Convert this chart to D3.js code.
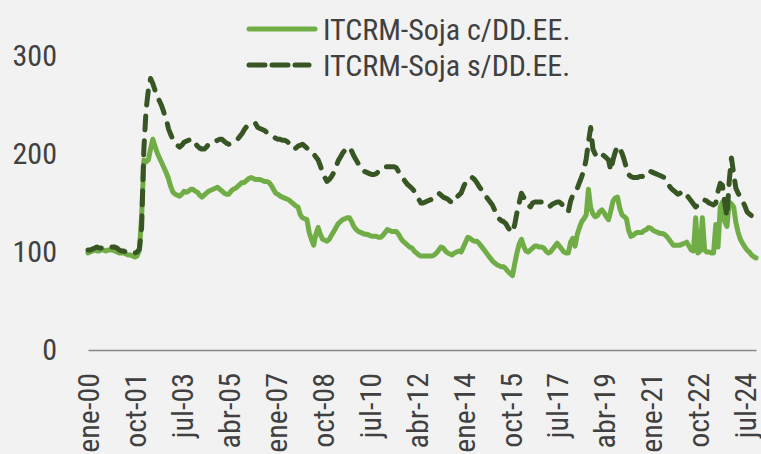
<!DOCTYPE html>
<html>
<head>
<meta charset="utf-8">
<script src="https://cdn.jsdelivr.net/npm/d3@7"></script>
<style>
  body { margin: 0; background: #f2f2f2; }
  text { font-family: "Liberation Sans Narrow", "Roboto Condensed", "Arial Narrow", sans-serif; }
</style>
</head>
<body>
<div id="graph"></div>
<script>
// ITCRM-Soja, monthly, ene-00 .. dic-24 (one line per year)
var conDE = [
  99, 100, 101, 102, 101, 101, 102, 102, 101, 102, 102, 102,
  101, 100, 99, 99, 99, 98, 97, 97, 96, 95, 96, 102,
  136, 194, 192, 194, 205, 215, 208, 201, 196, 191, 186, 181,
  175, 167, 161, 159, 158, 157, 159, 162, 161, 162, 164, 164,
  162, 161, 158, 156, 158, 160, 162, 163, 164, 165, 166, 164,
  162, 160, 159, 159, 162, 164, 165, 167, 169, 171, 171, 173,
  175, 176, 175, 174, 174, 174, 173, 172, 172, 171, 168, 164,
  160, 159, 157, 156, 155, 154, 153, 151, 149, 147, 146, 138,
  135, 134, 133, 120, 113, 107, 118, 125, 118, 113, 112, 111,
  113, 117, 121, 125, 129, 131, 133, 134, 135, 135, 131, 126,
  123, 121, 120, 119, 118, 118, 117, 116, 116, 116, 115, 115,
  117, 120, 123, 122, 121, 121, 121, 118, 114, 111, 109, 107,
  105, 104, 101, 99, 97, 96, 96, 96, 96, 96, 96, 97,
  99, 102, 105, 104, 101, 99, 98, 97, 99, 100, 101, 100,
  105, 110, 115, 114, 112, 111, 111, 109, 106, 103, 100, 97,
  94, 91, 89, 87, 86, 85, 85, 83, 80, 78, 76, 88,
  99, 108, 113, 106, 101, 100, 102, 104, 106, 106, 105, 105,
  104, 101, 99, 100, 103, 106, 109, 106, 103, 100, 99, 99,
  110, 114, 106, 118, 125, 131, 134, 138, 164, 145, 139, 136,
  137, 141, 143, 140, 136, 133, 142, 152, 155, 156, 145, 138,
  136, 134, 122, 116, 117, 119, 120, 120, 120, 122, 123, 125,
  124, 122, 121, 120, 119, 119, 118, 116, 113, 110, 107, 107,
  107, 107, 108, 109, 110, 106, 102, 101, 135, 99, 101, 135,
  102, 100, 100, 99, 99, 128, 105, 146, 151, 131, 126, 151,
  149, 146, 130, 120, 113, 109, 105, 102, 100, 97, 95, 94
]

var sinDE = [
  102, 102, 103, 104, 105, 104, 104, 104, 104, 105, 105, 105,
  105, 104, 102, 101, 101, 100, 100, 99, 99, 99, 100, 103,
  125, 205, 245, 265, 277, 272, 265, 259, 254, 249, 242, 236,
  226, 220, 215, 212, 209, 207, 209, 212, 213, 214, 215, 215,
  211, 208, 206, 205, 205, 207, 210, 212, 212, 213, 214, 215,
  215, 213, 211, 210, 211, 213, 214, 215, 218, 221, 225, 228,
  230, 231, 232, 231, 227, 226, 225, 224, 222, 220, 219, 218,
  216, 215, 215, 214, 214, 213, 211, 208, 205, 206, 208, 209,
  210, 208, 206, 204, 203, 200, 197, 194, 188, 181, 176, 172,
  174, 177, 181, 187, 193, 197, 201, 204, 206, 207, 203, 198,
  194, 190, 186, 183, 182, 181, 180, 179, 179, 180, 182, 184,
  185, 187, 187, 187, 187, 187, 186, 182, 179, 175, 172, 169,
  167, 165, 162, 158, 154, 150, 150, 151, 152, 153, 154, 156,
  158, 160, 158, 156, 155, 154, 152, 150, 153, 156, 158, 160,
  166, 171, 174, 176, 176, 174, 171, 167, 164, 160, 157, 154,
  151, 148, 143, 138, 134, 132, 131, 129, 125, 122, 120, 128,
  140, 150, 160, 156, 151, 148, 146, 150, 151, 151, 151, 151,
  150, 149, 146, 147, 149, 150, 151, 151, 149, 146, 143, 141,
  152, 158, 161, 165, 171, 177, 184, 195, 212, 227, 205, 200,
  197, 199, 200, 198, 196, 194, 183, 194, 202, 208, 205, 201,
  194, 186, 179, 177, 176, 176, 176, 177, 177, 178, 181, 183,
  182, 181, 180, 179, 178, 177, 176, 172, 168, 165, 163, 161,
  159, 160, 162, 161, 158, 155, 152, 149, 146, 148, 151, 153,
  153, 152, 150, 149, 148, 150, 162, 170, 168, 150, 136, 172,
  196, 180, 165, 160, 156, 152, 147, 141, 139, 137, 135, 133
]

// x tick labels, one every 21 months
var tickLabels = ["ene-00","oct-01","jul-03","abr-05","ene-07","oct-08","jul-10","abr-12",
                  "ene-14","oct-15","jul-17","abr-19","ene-21","oct-22","jul-24"]
var yTicks = [0, 100, 200, 300]
var seriesNames = ["ITCRM-Soja c/DD.EE.", "ITCRM-Soja s/DD.EE."]

var textColor = "#404040"
var lightGreen = "#70ad47"
var darkGreen = "#375623"

var svg = d3.select("#graph")
.append("svg")
  .attr("width", 761)
  .attr("height", 454)
  .style("background", "#f2f2f2")

// scales
var x = d3.scaleLinear()
  .domain([0, conDE.length - 1])
  .range([88, 756])
var y = d3.scaleLinear()
  .domain([0, 300])
  .range([350, 56])

// x axis
var xAxis = svg.append("g")
  .attr("transform", "translate(0,350)")
  .call(d3.axisBottom(x)
    .tickValues(tickLabels.map(function(d, i){ return i * 21 }))
    .tickFormat(function(d, i){ return tickLabels[i] })
    .tickSize(0)
    .tickSizeOuter(0))
xAxis.select(".domain")
  .attr("stroke", "#888")
  .attr("stroke-width", 1.5)
xAxis.selectAll("text")
  .attr("transform", "rotate(-90)")
  .attr("x", -23)
  .attr("y", 0)
  .attr("dy", "0.36em")
  .attr("text-anchor", "end")
  .attr("fill", textColor)
  .style("font-size", "30px")

// y axis (labels only)
var yAxis = svg.append("g")
  .attr("transform", "translate(57,0)")
  .call(d3.axisLeft(y).tickValues(yTicks).tickSize(0).tickPadding(0))
yAxis.select(".domain").remove()
yAxis.selectAll("text")
  .attr("fill", textColor)
  .style("font-size", "30px")

// lines
var line = d3.line()
  .x(function(d, i){ return x(i) })
  .y(function(d){ return y(d) })

svg.append("path")
  .datum(conDE)
  .attr("d", line)
  .attr("fill", "none")
  .attr("stroke", lightGreen)
  .attr("stroke-width", 5)
  .attr("stroke-linejoin", "round")
  .attr("stroke-linecap", "round")

svg.append("path")
  .datum(sinDE)
  .attr("d", line)
  .attr("fill", "none")
  .attr("stroke", darkGreen)
  .attr("stroke-width", 5)
  .attr("stroke-linejoin", "round")
  .attr("stroke-linecap", "round")
  .attr("stroke-dasharray", "14,11")

// legend
var legend = svg.selectAll(".legend")
  .data(seriesNames)
  .enter()
  .append("g")
  .attr("transform", function(d, i){ return "translate(0," + (29 + i * 36) + ")" })

legend.append("line")
  .attr("x1", 249)
  .attr("x2", function(d, i){ return i == 0 ? 315 : 309 })
  .attr("stroke", function(d, i){ return i == 0 ? lightGreen : darkGreen })
  .attr("stroke-width", 5)
  .attr("stroke-linecap", "round")
  .attr("stroke-dasharray", function(d, i){ return i == 0 ? null : "16,7" })

legend.append("text")
  .attr("x", 323)
  .attr("dy", "0.36em")
  .attr("fill", textColor)
  .style("font-size", "30px")
  .text(function(d){ return d })
</script>
</body>
</html>
